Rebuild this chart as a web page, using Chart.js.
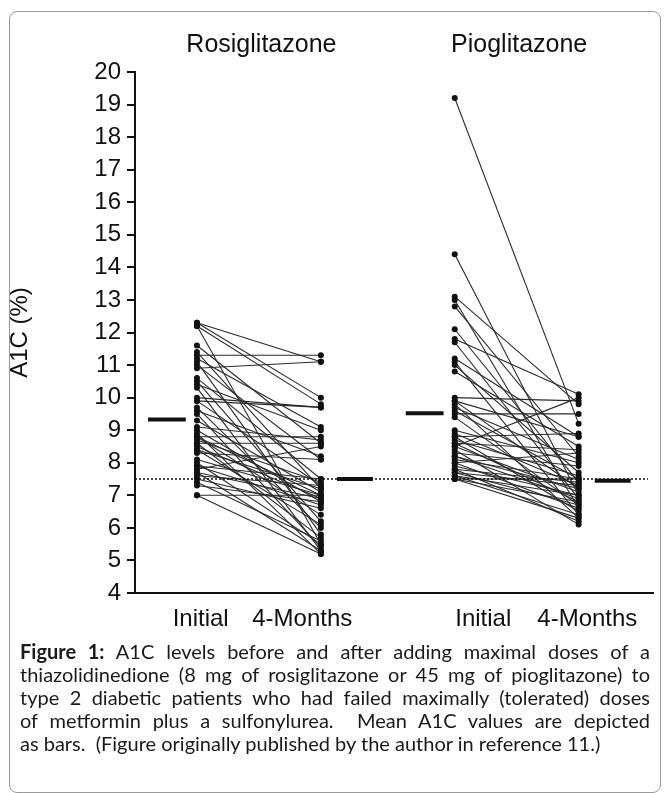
<!DOCTYPE html>
<html>
<head>
<meta charset="utf-8">
<script src="https://cdn.jsdelivr.net/npm/chart.js@4.4.1/dist/chart.umd.min.js"></script>
<style>
  body { margin: 0; background: #fff; }
  #frame {
    position: absolute; left: 9px; top: 11px; width: 650px; height: 780px;
    border: 1px solid #9a9a9a; border-radius: 8px;
  }
  #chart { position: absolute; left: 0; top: 0; }
  #caption {
    position: absolute; left: 20px; top: 640px; width: 630px;
    font-family: Lato, "Open Sans", sans-serif; font-size: 20px; color: #1a1a1a;
  }
  #caption div { height: 23px; line-height: 23px; white-space: nowrap; text-align: justify; text-align-last: justify; }
  #caption div.last { text-align-last: left; }
</style>
</head>
<body>
<div id="frame"></div>
<canvas id="chart" width="668" height="640"></canvas>
<div id="caption">
  <div><b>Figure 1:</b> A1C levels before and after adding maximal doses of a</div>
  <div>thiazolidinedione (8 mg of rosiglitazone or 45 mg of pioglitazone) to</div>
  <div>type 2 diabetic patients who had failed maximally (tolerated) doses</div>
  <div>of metformin plus a sulfonylurea.&nbsp; Mean A1C values are depicted</div>
  <div class="last">as bars.&nbsp; (Figure originally published by the author in reference 11.)</div>
</div>
<script>
// --- Data ---
const groups = ["Rosiglitazone", "Pioglitazone"];
const timepoints = ["Initial", "4-Months"];

const rosiInitial = [12.3, 12.3, 12.2, 12.2, 11.6, 11.4, 11.3, 11.2, 11.1, 11.0, 10.9, 10.6, 10.5, 10.4, 10.3, 10.0,
  9.9, 9.9, 9.7, 9.6, 9.5, 9.3, 9.1, 9.0, 8.9, 8.8, 8.8, 8.8, 8.7, 8.6, 8.6, 8.5, 8.4, 8.4, 8.3, 8.1, 8.0,
  7.9, 7.9, 7.8, 7.7, 7.7, 7.6, 7.5, 7.4, 7.3, 7.0, 7.0];
const rosiMonth4 = [11.1, 10.0, 9.8, 5.5, 8.6, 7.2, 11.3, 9.1, 5.8, 8.1, 11.1, 7.5, 6.2, 9.0, 5.3, 9.7,
  9.7, 7.3, 6.0, 8.2, 5.4, 7.1, 8.7, 6.8, 5.2, 8.8, 7.0, 6.4, 7.4, 8.6, 5.7, 6.9, 7.2, 6.1, 8.1, 7.0, 5.5,
  6.7, 7.5, 8.5, 5.3, 6.9, 7.3, 6.6, 5.6, 6.8, 7.0, 5.2];

const pioInitial = [19.2, 14.4, 13.1, 13.0, 12.8, 12.1, 11.8, 11.7, 11.2, 11.1, 11.0, 10.8, 10.0, 9.9, 9.8,
  9.7, 9.6, 9.5, 9.4, 9.0, 8.9, 8.8, 8.8, 8.7, 8.6, 8.6, 8.5, 8.4, 8.3, 8.2, 8.1, 8.0, 8.0, 7.9, 7.8, 7.8,
  7.7, 7.7, 7.6, 7.6, 7.5, 7.5, 7.5, 9.9, 8.2, 8.5];
const pioMonth4 = [9.2, 7.0, 9.8, 6.6, 8.2, 7.4, 10.1, 6.9, 8.8, 6.4, 7.7, 8.5, 9.9, 7.2, 6.3,
  8.1, 7.5, 9.5, 6.7, 8.0, 7.3, 8.9, 6.5, 7.6, 8.4, 6.8, 7.1, 6.1, 7.9, 6.9, 7.5, 6.6, 8.3, 7.0, 6.2, 7.4,
  6.7, 7.3, 6.4, 7.0, 6.8, 7.5, 6.3, 8.8, 7.2, 10.0];

const meanInitial = [9.33, 9.52];
const meanMonth4 = [7.5, 7.45];
const targetA1C = 7.5;

const yMin = 4, yMax = 20;

// --- Layout on the x scale (1 unit = gap between Initial and 4-Months) ---
const groupX = [1, 3.08];           // x of "Initial" column for each group
const xMin = 0.5, xMax = 4.68;
const labelX = [1.03, 1.85, 3.31, 4.15];
const xTickLabels = [timepoints[0], timepoints[1], timepoints[0], timepoints[1]];
const meanInitialSpan = [-0.395, -0.09];
const meanMonth4Span = [1.13, 1.42];

const FONT = "'Liberation Sans', Arial, sans-serif";
const INK = "#111";

function pairDatasets(initial, month4, x0) {
  return initial.map((v, i) => ({
    data: [{ x: x0, y: v }, { x: x0 + 1, y: month4[i] }],
    showLine: true,
    borderColor: "#2a2a2a",
    borderWidth: 1.1,
    pointRadius: 3,
    pointBackgroundColor: INK,
    pointBorderWidth: 0,
  }));
}

function meanBar(value, x0, span) {
  return {
    data: [{ x: x0 + span[0], y: value }, { x: x0 + span[1], y: value }],
    showLine: true,
    borderColor: INK,
    borderWidth: 4,
    pointRadius: 0,
  };
}

const datasets = [
  {
    data: [{ x: xMin, y: targetA1C }, { x: xMax - 0.04, y: targetA1C }],
    showLine: true,
    borderColor: INK,
    borderWidth: 1.5,
    borderDash: [2, 2],
    pointRadius: 0,
  },
  ...pairDatasets(rosiInitial, rosiMonth4, groupX[0]),
  ...pairDatasets(pioInitial, pioMonth4, groupX[1]),
  meanBar(meanInitial[0], groupX[0], meanInitialSpan),
  meanBar(meanMonth4[0], groupX[0], meanMonth4Span),
  meanBar(meanInitial[1], groupX[1], meanInitialSpan),
  meanBar(meanMonth4[1], groupX[1], meanMonth4Span),
];

// group titles above each pair of columns
const groupTitles = {
  id: "groupTitles",
  afterDraw(chart) {
    const { ctx, scales: { x } } = chart;
    ctx.save();
    ctx.font = "25px " + FONT;
    ctx.fillStyle = INK;
    ctx.textAlign = "center";
    ctx.textBaseline = "alphabetic";
    groups.forEach((name, i) => {
      ctx.fillText(name, x.getPixelForValue(groupX[i] + 0.52), 52);
    });
    ctx.restore();
  },
};

Chart.defaults.font.family = FONT;
Chart.defaults.color = INK;

new Chart(document.getElementById("chart"), {
  type: "scatter",
  data: { datasets },
  plugins: [groupTitles],
  options: {
    responsive: false,
    animation: false,
    layout: { padding: { left: 0, top: 72, right: 15, bottom: 0 } },
    plugins: { legend: { display: false }, tooltip: { enabled: false } },
    scales: {
      x: {
        type: "linear",
        min: xMin,
        max: xMax,
        afterFit: (scale) => { scale.height = 47; },
        afterBuildTicks: (scale) => { scale.ticks = labelX.map((v) => ({ value: v })); },
        grid: { display: false },
        border: { display: true, color: INK, width: 2 },
        ticks: {
          autoSkip: false,
          maxRotation: 0,
          padding: 4,
          font: { size: 24 },
          callback: (v, i) => xTickLabels[i],
        },
      },
      y: {
        min: yMin,
        max: yMax,
        afterFit: (scale) => { scale.width = 135; },
        grid: { drawOnChartArea: false, drawTicks: true, tickLength: 8, color: INK, lineWidth: 2 },
        border: { display: true, color: INK, width: 2 },
        ticks: { stepSize: 1, padding: 6, font: { size: 24 } },
        title: { display: true, text: "A1C (%)", font: { size: 24 }, padding: { top: 6, bottom: 0 } },
      },
    },
  },
});
</script>
</body>
</html>
